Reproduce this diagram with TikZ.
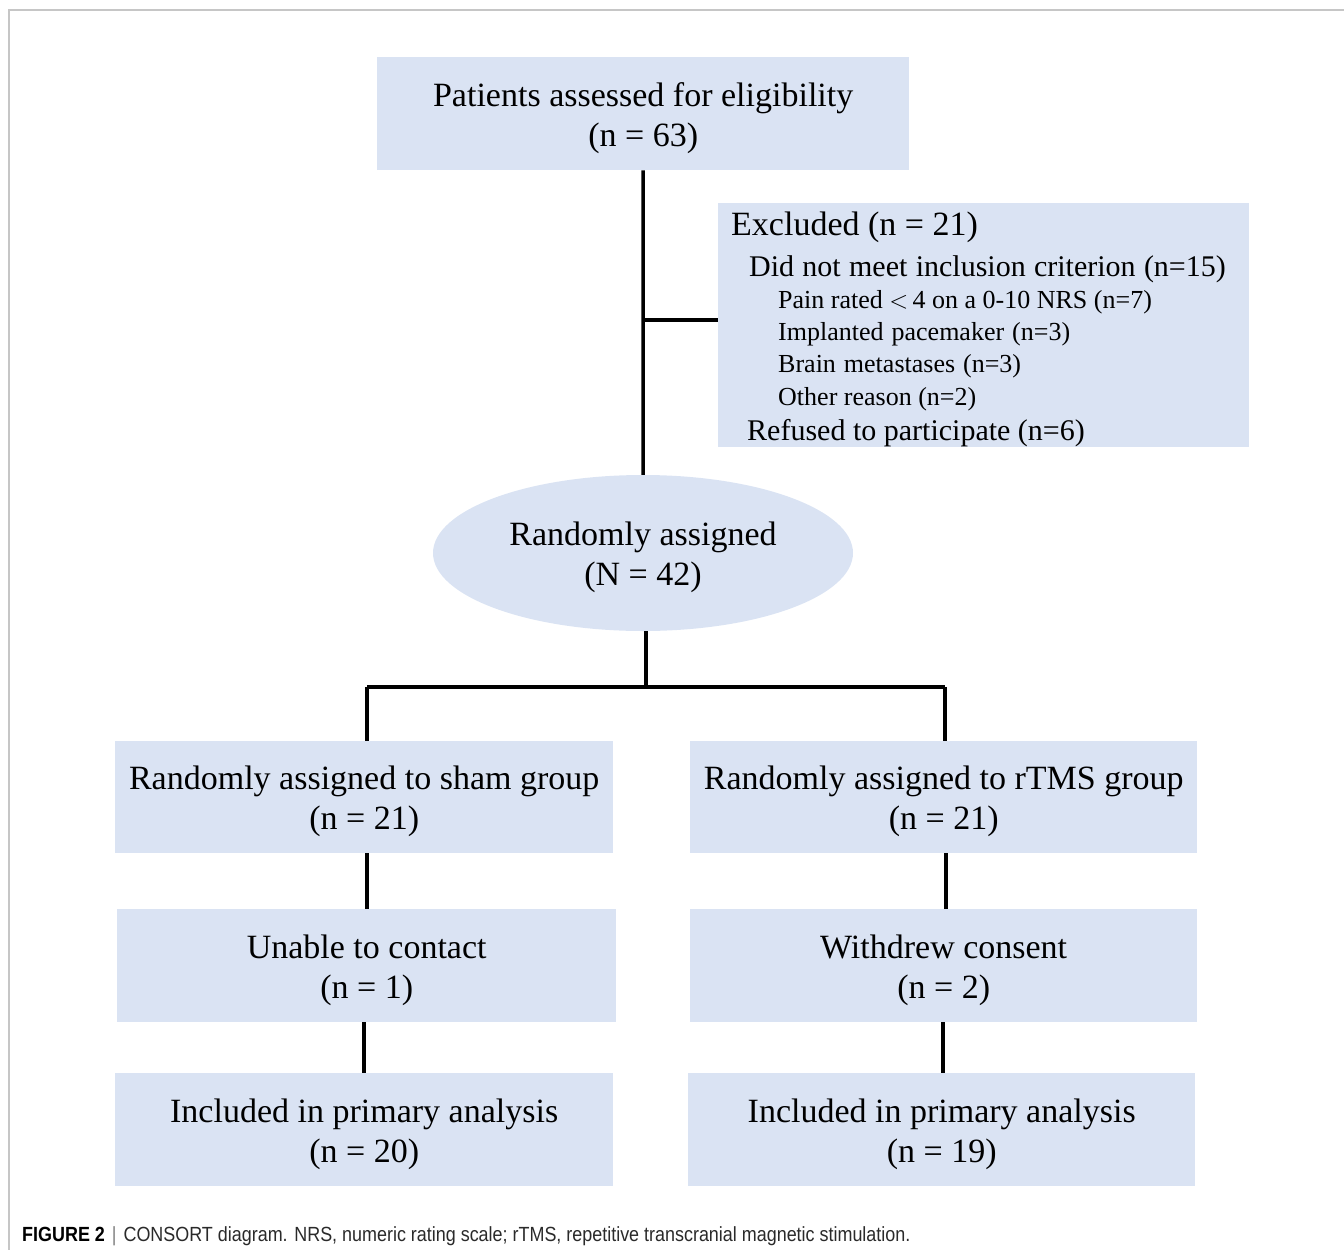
\documentclass[tikz,border=0pt]{standalone}
\usepackage{fontspec}
\setmainfont{Liberation Serif}
\newfontfamily\capfont[FakeStretch=0.875]{Liberation Sans}
\usetikzlibrary{shapes.geometric}
\definecolor{boxblue}{HTML}{DAE3F3}
\definecolor{framegray}{HTML}{C6C6C6}
\definecolor{captext}{HTML}{2A2A2A}
\newcommand\tstr{\rule{0pt}{32pt}}
\begin{document}
\begin{tikzpicture}[x=1pt,y=-1pt,
  box/.style={fill=boxblue, draw=none, inner sep=0pt, anchor=north west, align=center,
    font=\fontsize{34}{40}\selectfont},
  conn/.style={draw=black, line width=3.5pt},
  exline/.style={anchor=base west, inner sep=0pt},
  exbig/.style={exline, font=\fontsize{34}{40}\selectfont},
  exmid/.style={exline, font=\fontsize{30}{36}\selectfont},
  exsmall/.style={exline, font=\fontsize{26}{30}\selectfont},
]
\useasboundingbox (0,0) rectangle (1344,1250);
\draw[framegray, line width=2pt] (1344,10) -- (9,10) -- (9,1250);

% boxes
\node[box, minimum width=532pt, minimum height=113pt] (top) at (377,57)
  {\tstr Patients assessed for eligibility\\(n = 63)};
\node[box, minimum width=531pt, minimum height=244pt] (excl) at (718,203) {};
\node[fill=boxblue, draw=none, ellipse, minimum width=420pt, minimum height=156pt,
  inner sep=0pt, align=center, font=\fontsize{34}{40}\selectfont] (ell) at (643,553)
  {\tstr Randomly assigned\\(N = 42)};
\node[box, minimum width=498pt, minimum height=112pt] (sham) at (115,741)
  {\tstr Randomly assigned to sham group\\(n = 21)};
\node[box, minimum width=507pt, minimum height=112pt] (rtms) at (690,741)
  {\tstr Randomly assigned to rTMS group\\(n = 21)};
\node[box, minimum width=499pt, minimum height=113pt] (unable) at (117,909)
  {\tstr Unable to contact\\(n = 1)};
\node[box, minimum width=507pt, minimum height=113pt] (withdrew) at (690,909)
  {\tstr Withdrew consent\\(n = 2)};
\node[box, minimum width=498pt, minimum height=113pt] (incl) at (115,1073)
  {\tstr Included in primary analysis\\(n = 20)};
\node[box, minimum width=507pt, minimum height=113pt] (incr) at (688,1073)
  {\tstr Included in primary analysis\\(n = 19)};

% excluded texts
\node[exbig] (e1) at (731,235) {Excluded (n = 21)};
\node[exmid] (e2) at (749,276) {\spaceskip=8.3pt Did not meet inclusion criterion (n=15)};
\node[exsmall] (e3) at (778,308) {Pain rated $<$\,4 on a 0-10 NRS (n=7)};
\node[exsmall] (e4) at (778,340) {\spaceskip=8pt Implanted pacemaker (n=3)};
\node[exsmall] (e5) at (778,372) {\spaceskip=8pt Brain metastases (n=3)};
\node[exsmall] (e6) at (778,405) {Other reason (n=2)};
\node[exmid] (e7) at (747,440) {Refused to participate (n=6)};

% connectors
\coordinate (bj) at (643,320);
\coordinate (split) at (646,687);
\draw[conn] (top.south) -- (ell.north);
\draw[conn] (bj) -- (bj -| excl.west);
\draw[conn] (ell.south -| split) -- (split);
\draw[conn] (367,687) -- (945,687);
\draw[conn] (367,687) -- (367,741) coordinate (shamin);
\draw[conn] (945,687) -- (945,741) coordinate (rtmsin);
\draw[conn] (367,853) -- (367,909);
\draw[conn] (946,853) -- (946,909);
\draw[conn] (364,1022) -- (364,1073);
\draw[conn] (943,1022) -- (943,1073);

% caption
\node[anchor=west, inner sep=0pt, font=\capfont\fontsize{20.5}{24}\selectfont, text=captext] (cap) at (22,1236)
  {\textbf{\color{black}FIGURE 2}\hspace{7pt}{\color{gray}|}\hspace{7pt}CONSORT diagram. NRS, numeric rating scale; rTMS, repetitive transcranial magnetic stimulation.};
\end{tikzpicture}
\end{document}
